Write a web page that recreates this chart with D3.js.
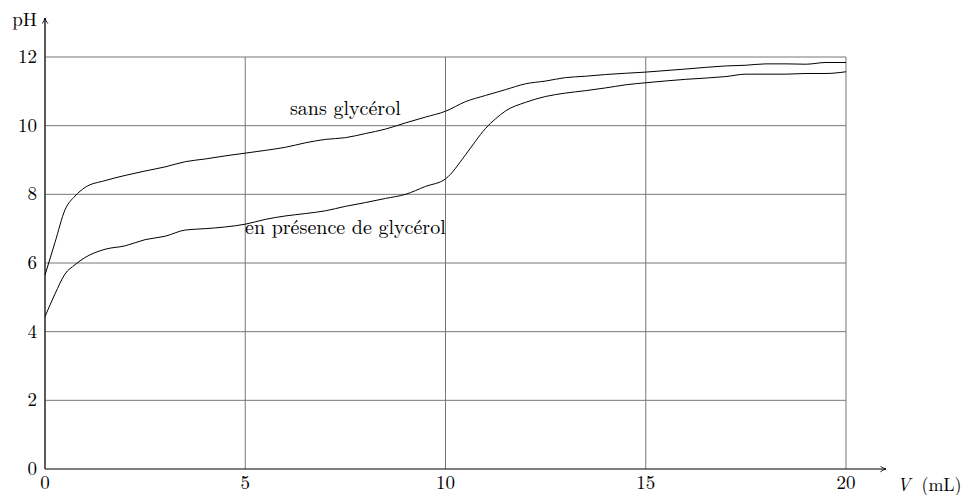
<!DOCTYPE html>
<html>
<head>
<meta charset="utf-8">
<script src="https://cdn.jsdelivr.net/npm/d3@7"></script>
<style>
  body { margin: 0; background: #fff; }
  text { font-family: 'Latin Modern Roman', 'Liberation Serif', 'DejaVu Serif', serif; }
</style>
</head>
<body>
<div id="chart"></div>
<script>
// volumes (mL) and pH readings
let volSans = [0, 0.25, 0.5, 0.75, 1, 1.5, 2, 2.5, 3, 3.5, 4, 4.5, 5, 5.5, 6, 6.5, 7, 7.5, 8, 8.5, 9, 9.5, 10, 10.5, 11, 11.5, 12, 12.5, 13, 13.5, 14, 15, 16, 17, 17.5, 18, 18.5, 19, 19.5, 20]
let phSans = [5.65, 6.6, 7.55, 7.95, 8.2, 8.4, 8.55, 8.68, 8.8, 8.95, 9.03, 9.12, 9.2, 9.28, 9.37, 9.5, 9.6, 9.65, 9.77, 9.9, 10.08, 10.25, 10.42, 10.7, 10.88, 11.05, 11.22, 11.3, 11.4, 11.44, 11.49, 11.56, 11.65, 11.74, 11.76, 11.8, 11.8, 11.79, 11.84, 11.84]

let volGly = [0, 0.25, 0.5, 0.75, 1, 1.5, 2, 2.5, 3, 3.5, 4, 4.5, 5, 5.5, 6, 6.5, 7, 7.5, 8, 8.5, 9, 9.5, 10, 10.5, 10.75, 11, 11.25, 11.5, 12, 12.5, 13, 13.5, 14, 14.5, 15, 16, 17, 17.5, 18.5, 19, 19.5, 20]
let phGly = [4.44, 5.1, 5.68, 5.95, 6.16, 6.4, 6.5, 6.68, 6.78, 6.96, 7.0, 7.05, 7.13, 7.27, 7.37, 7.44, 7.52, 7.65, 7.76, 7.88, 8.0, 8.23, 8.45, 9.15, 9.55, 9.92, 10.2, 10.43, 10.68, 10.85, 10.95, 11.02, 11.1, 11.19, 11.25, 11.35, 11.43, 11.5, 11.5, 11.52, 11.52, 11.57]

let xTicks = [0, 5, 10, 15, 20]
let yTicks = [0, 2, 4, 6, 8, 10, 12]

let margin = { top: 57, left: 45, right: 117, bottom: 26 }
let width = 963 - margin.left - margin.right
let height = 495 - margin.top - margin.bottom

let svg = d3.select('#chart')
  .append('svg')
  .attr('width', 963)
  .attr('height', 495)

let g = svg.append('g')
  .attr('transform', 'translate(' + margin.left + ',' + margin.top + ')')

let xPositionScale = d3.scaleLinear().domain([0, 20]).range([0, width])
let yPositionScale = d3.scaleLinear().domain([0, 12]).range([height, 0])

// grid
g.selectAll('.hgrid')
  .data(yTicks.filter(d => d > 0))
  .enter()
  .append('line')
  .attr('x1', 0)
  .attr('x2', xPositionScale(20))
  .attr('y1', d => yPositionScale(d))
  .attr('y2', d => yPositionScale(d))
  .attr('stroke', '#777')
  .attr('stroke-width', 1)

g.selectAll('.vgrid')
  .data(xTicks.filter(d => d > 0))
  .enter()
  .append('line')
  .attr('x1', d => xPositionScale(d))
  .attr('x2', d => xPositionScale(d))
  .attr('y1', yPositionScale(0))
  .attr('y2', yPositionScale(12))
  .attr('stroke', '#777')
  .attr('stroke-width', 1)

// axes with arrows
svg.append('defs').append('marker')
  .attr('id', 'arrow')
  .attr('viewBox', '0 0 10 10')
  .attr('refX', 9)
  .attr('refY', 5)
  .attr('markerWidth', 7)
  .attr('markerHeight', 7)
  .attr('markerUnits', 'userSpaceOnUse')
  .attr('orient', 'auto')
  .append('path')
  .attr('d', 'M1,1 Q5,4 9,5 Q5,6 1,9')
  .attr('fill', 'none')
  .attr('stroke', '#000')
  .attr('stroke-width', 1.2)

g.append('line')
  .attr('x1', 0).attr('x2', 841)
  .attr('y1', height).attr('y2', height)
  .attr('stroke', '#000')
  .attr('stroke-width', 1.2)
  .attr('marker-end', 'url(#arrow)')

g.append('line')
  .attr('x1', 0).attr('x2', 0)
  .attr('y1', height).attr('y2', -39)
  .attr('stroke', '#333')
  .attr('stroke-width', 1.6)
  .attr('marker-end', 'url(#arrow)')

// tick labels
g.selectAll('.xlabel')
  .data(xTicks)
  .enter()
  .append('text')
  .text(d => d)
  .attr('x', d => xPositionScale(d))
  .attr('y', height + 20)
  .attr('text-anchor', 'middle')
  .attr('font-size', 19)

g.selectAll('.ylabel')
  .data(yTicks)
  .enter()
  .append('text')
  .text(d => d)
  .attr('x', -8)
  .attr('y', d => yPositionScale(d) + 6)
  .attr('text-anchor', 'end')
  .attr('font-size', 19)

g.append('text')
  .text('pH')
  .attr('x', -8)
  .attr('y', -31)
  .attr('text-anchor', 'end')
  .attr('font-size', 19)

let vLabel = g.append('text')
  .attr('x', 852)
  .attr('y', height + 22)
  .attr('font-size', 18)
vLabel.append('tspan').text('V').attr('font-style', 'italic')
vLabel.append('tspan').text('(mL)').attr('dx', 11)

// curves
let line = d3.line()
  .x(d => xPositionScale(d[0]))
  .y(d => yPositionScale(d[1]))
  .curve(d3.curveMonotoneX)

g.append('path')
  .datum(d3.zip(volSans, phSans))
  .attr('d', line)
  .attr('fill', 'none')
  .attr('stroke', '#000')
  .attr('stroke-width', 1)

g.append('path')
  .datum(d3.zip(volGly, phGly))
  .attr('d', line)
  .attr('fill', 'none')
  .attr('stroke', '#000')
  .attr('stroke-width', 1)

// curve labels
g.append('text')
  .text('sans glycérol')
  .attr('x', xPositionScale(7.5))
  .attr('y', yPositionScale(10.3))
  .attr('text-anchor', 'middle')
  .attr('font-size', 20)

g.append('text')
  .text('en présence de glycérol')
  .attr('x', xPositionScale(7.5))
  .attr('y', yPositionScale(6.85))
  .attr('text-anchor', 'middle')
  .attr('font-size', 20)
</script>
</body>
</html>
